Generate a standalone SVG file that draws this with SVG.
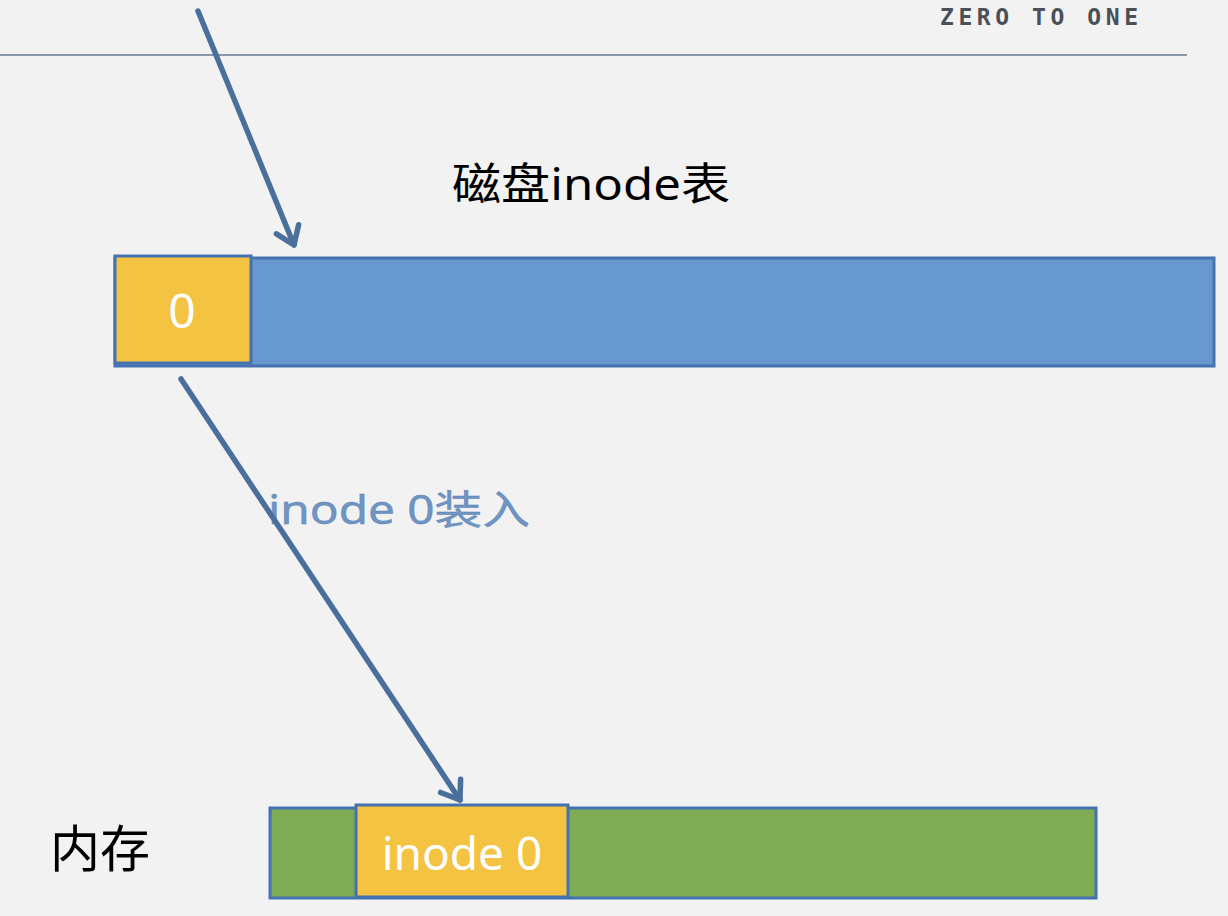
<svg xmlns="http://www.w3.org/2000/svg" width="1228" height="916" viewBox="0 0 1228 916">
<style>
.bar{stroke:#4472b0;stroke-width:3}
.blue{fill:#6899ce}
.green{fill:#7fab55}
.yellow{fill:#f4c342}
.conn{fill:none;stroke:#4a6f9a;stroke-width:5.5;stroke-linecap:round;stroke-linejoin:round}
.cjk{font-family:"Noto Sans","Noto Sans CJK SC",sans-serif}
.w{font-family:"Noto Sans",sans-serif;fill:#fff;text-anchor:middle}
</style>
<defs>
<marker id="ah" markerUnits="userSpaceOnUse" viewBox="-22 -16 26 32" refX="0" refY="0" markerWidth="26" markerHeight="32" orient="auto">
<path d="M-17,-12 L0,0 L-17,12" fill="none" stroke="#4a6f9a" stroke-width="5.5" stroke-linecap="round" stroke-linejoin="round"/>
</marker>
</defs>
<rect width="1228" height="916" fill="#f2f2f2"/>
<g id="header">
<text x="940" y="25" font-family="DejaVu Sans Mono,monospace" font-weight="bold" font-size="23" fill="#4a4f58" textLength="198" lengthAdjust="spacing">ZERO TO ONE</text>
<line x1="0" y1="55" x2="1187" y2="55" stroke="#8a97a8" stroke-width="2"/>
</g>
<g id="disk-title"><text x="452" y="200" class="cjk" font-size="44" fill="#000" textLength="278" lengthAdjust="spacingAndGlyphs">磁盘inode表</text></g>
<g id="disk-bar"><rect x="115" y="258" width="1099" height="108" class="bar blue"/></g>
<g id="disk-inode0">
<rect x="115" y="256" width="136" height="107" class="bar yellow"/>
<text x="182" y="328" class="w" font-size="48">0</text>
</g>
<g id="load-label"><text x="268" y="524" class="cjk" font-size="40" fill="#6f95c4" stroke="#5a7fae" stroke-width="0.4" textLength="262" lengthAdjust="spacingAndGlyphs">inode 0装入</text></g>
<g id="mem-label"><text x="50" y="867" class="cjk" font-size="50" fill="#000">内存</text></g>
<g id="mem-bar"><rect x="270" y="808" width="826" height="90" class="bar green"/></g>
<g id="mem-inode0">
<rect x="356" y="805" width="212" height="92" class="bar yellow"/>
<text x="462" y="870" class="w" font-size="46">inode 0</text>
</g>
<g id="connectors">
<line x1="198" y1="11" x2="294" y2="245" class="conn" marker-end="url(#ah)"/>
<line x1="181" y1="379" x2="460" y2="800" class="conn" marker-end="url(#ah)"/>
</g>
</svg>
